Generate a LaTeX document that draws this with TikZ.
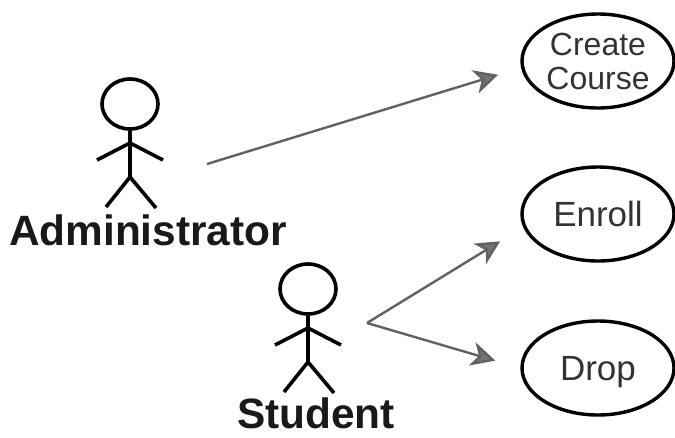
\documentclass[tikz,border=0pt]{standalone}
\usepackage{fontspec}
\setmainfont{Liberation Sans}
\usetikzlibrary{arrows.meta,shapes.geometric}

\definecolor{tipgray}{gray}{0.45}
\definecolor{linegray}{gray}{0.38}
\definecolor{textgray}{gray}{0.2}

\tikzset{
  usecase/.style={ellipse,draw=black,line width=1.2mm,inner sep=0pt,minimum width=152pt,
                  minimum height=94pt,align=center,font=\fontsize{32}{34}\selectfont,
                  text=textgray},
  bigcase/.style={usecase,font=\fontsize{35}{35}\selectfont,text depth=0pt},
  actorname/.style={font=\bfseries\fontsize{42.4}{44}\selectfont,text=black!90,inner sep=0pt,anchor=base},
  flow/.style={-{Stealth[length=24pt,width=24pt,inset=7pt,fill=tipgray]},draw=linegray,line width=2.4pt},
  stickman/.pic={
    \node[ellipse,draw=black,line width=3.6pt,minimum width=56pt,minimum height=50pt,inner sep=0pt] (-head) at (0,0) {};
    \draw[line width=3.6pt,line join=round] (-head.south) -- (0,73)
      (-33,56) -- (0,39) -- (33,56)
      (-24,103) -- (0,73) -- (26,104);
  }
}

\begin{document}
\begin{tikzpicture}[x=1pt,y=-1pt]
  \useasboundingbox (0,0) rectangle (675,437);

  \pic (AD) at (130,104) {stickman};
  \pic (ST) at (308,289) {stickman};

  \node[actorname] (ADname) at (148,245) {Administrator};
  \node[actorname] (STname) at (316,428) {Student};

  \node[usecase] (CC) at (598,61)  {Create\\Course};
  \node[bigcase] (EN) at (598,214) {Enroll};
  \node[bigcase] (DR) at (598,368) {Drop};

  \coordinate (ADout) at (207,164);
  \coordinate (STout) at (367,323);

  \draw[flow,shorten >=24pt] (ADout) -- (CC.185);
  \draw[flow,shorten >=27pt] (STout) -- (EN.190);
  \draw[flow,shorten >=26pt] (STout) -- (DR.west);
\end{tikzpicture}
\end{document}
